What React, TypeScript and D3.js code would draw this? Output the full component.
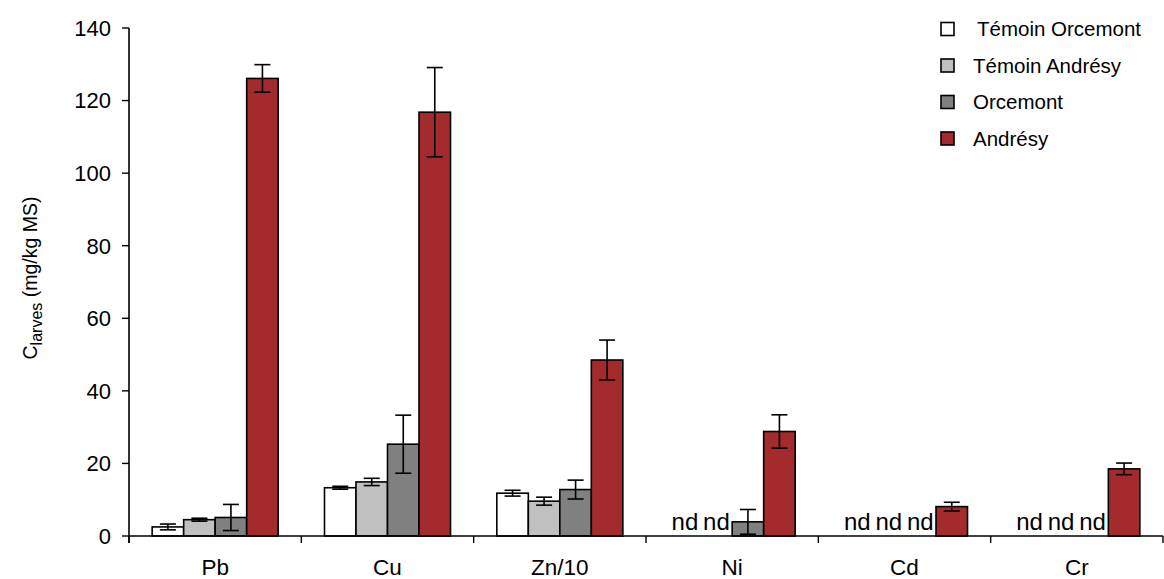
import React from "react";
import * as d3 from "d3";

const categories = ["Pb", "Cu", "Zn/10", "Ni", "Cd", "Cr"];
const seriesNames = ["Témoin Orcemont", "Témoin Andrésy", "Orcemont", "Andrésy"];
const seriesColors = ["#ffffff", "#c0c0c0", "#808080", "#a32b2e"];
// null = nd (non détecté)
const temoinOrcemont = [2.5, 13.3, 11.8, null, null, null];
const temoinOrcemontErr = [0.8, 0.4, 0.8, 0, 0, 0];
const temoinAndresy = [4.5, 14.9, 9.6, null, null, null];
const temoinAndresyErr = [0.4, 1.0, 1.1, 0, 0, 0];
const orcemont = [5.1, 25.3, 12.8, 3.9, null, null];
const orcemontErr = [3.6, 8.0, 2.6, 3.4, 0, 0];
const andresy = [126.1, 116.8, 48.5, 28.8, 8.1, 18.5];
const andresyErr = [3.8, 12.3, 5.5, 4.6, 1.2, 1.6];
const yTicks = [0, 20, 40, 60, 80, 100, 120, 140];

const values = [temoinOrcemont, temoinAndresy, orcemont, andresy];
const errors = [temoinOrcemontErr, temoinAndresyErr, orcemontErr, andresyErr];

const W = 1164;
const H = 579;
const FONT = "'Liberation Sans', Arial, sans-serif";

export default function App() {
  const x0 = d3.scaleBand<string>().domain(categories).range([129, 1163]);
  const x1 = d3
    .scaleBand<string>()
    .domain(seriesNames)
    .range([0, x0.bandwidth()])
    .paddingInner(0)
    .paddingOuter(0.735);
  const y = d3.scaleLinear().domain([0, 140]).range([536, 28]);
  const capW = 16;

  return (
    <svg
      width={W}
      height={H}
      style={{ position: "absolute", left: 0, top: 0, background: "#fff" }}
      fontFamily={FONT}
    >
      {/* bars */}
      {categories.map((cat, ci) =>
        seriesNames.map((s, si) => {
          const v = values[si][ci];
          const bx = (x0(cat) as number) + (x1(s) as number);
          const bw = x1.bandwidth();
          if (v === null) {
            return (
              <text
                key={cat + s}
                x={bx + bw / 2}
                y={y(0) - 6}
                textAnchor="middle"
                fontSize={24}
                fill="#000"
              >
                nd
              </text>
            );
          }
          const e = errors[si][ci];
          const cx = bx + bw / 2;
          return (
            <g key={cat + s}>
              <rect
                x={bx}
                y={y(v)}
                width={bw}
                height={y(0) - y(v)}
                fill={seriesColors[si]}
                stroke="#000"
                strokeWidth={1.6}
              />
              <g stroke="#000" strokeWidth={1.6}>
                <line x1={cx} x2={cx} y1={y(v + e)} y2={y(Math.max(0, v - e))} />
                <line x1={cx - capW / 2} x2={cx + capW / 2} y1={y(v + e)} y2={y(v + e)} />
                <line
                  x1={cx - capW / 2}
                  x2={cx + capW / 2}
                  y1={y(Math.max(0, v - e))}
                  y2={y(Math.max(0, v - e))}
                />
              </g>
            </g>
          );
        })
      )}

      {/* y axis */}
      <line x1={129} x2={129} y1={y(140)} y2={y(0) + 7} stroke="#000" strokeWidth={1.6} />
      {yTicks.map((t) => (
        <g key={t}>
          <line x1={122} x2={129} y1={y(t)} y2={y(t)} stroke="#000" strokeWidth={1.4} />
          <text x={111} y={y(t)} dy="0.36em" textAnchor="end" fontSize={22} fill="#000">
            {t}
          </text>
        </g>
      ))}

      {/* x axis */}
      <line x1={129} x2={1163} y1={y(0)} y2={y(0)} stroke="#000" strokeWidth={1.6} />
      {categories.map((cat) => (
        <line
          key={"t" + cat}
          x1={x0(cat) as number}
          x2={x0(cat) as number}
          y1={y(0)}
          y2={y(0) + 7}
          stroke="#000"
          strokeWidth={1.4}
        />
      ))}
      <line x1={1163} x2={1163} y1={y(0)} y2={y(0) + 7} stroke="#000" strokeWidth={1.4} />
      {categories.map((cat) => (
        <text
          key={"l" + cat}
          x={(x0(cat) as number) + x0.bandwidth() / 2}
          y={575}
          textAnchor="middle"
          fontSize={22.5}
          fill="#000"
        >
          {cat}
        </text>
      ))}

      {/* y label */}
      <text
        transform={`translate(37, 278) rotate(-90)`}
        textAnchor="middle"
        fontSize={19.5}
        fill="#000"
      >
        <tspan>C</tspan>
        <tspan fontSize={16} dy={5}>larves</tspan>
        <tspan dy={-5}> (mg/kg MS)</tspan>
      </text>

      {/* legend */}
      {seriesNames.map((s, i) => {
        const cy = 29 + i * 36.5;
        return (
          <g key={"lg" + s}>
            <rect
              x={941}
              y={cy - 6.5}
              width={13}
              height={13}
              fill={seriesColors[i]}
              stroke="#000"
              strokeWidth={1.6}
            />
            <text x={i === 0 ? 977 : 973} y={cy} dy="0.36em" fontSize={20.5} fill="#000">
              {s}
            </text>
          </g>
        );
      })}
    </svg>
  );
}
